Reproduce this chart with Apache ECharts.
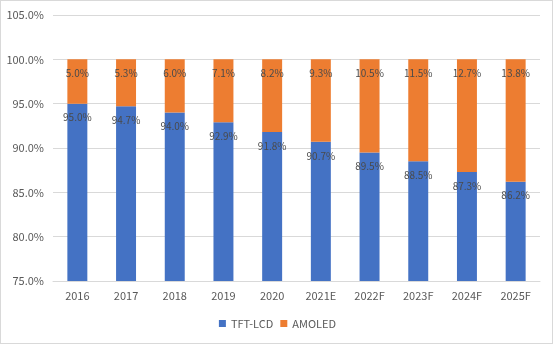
<!DOCTYPE html>
<html>
<head>
<meta charset="utf-8">
<script src="https://cdn.jsdelivr.net/npm/echarts@6/dist/echarts.min.js"></script>
<style>
  html, body { margin: 0; padding: 0; background: #fff; }
  #frame { position: absolute; left: 0; top: 0; width: 551px; height: 342px; border: 1px solid #d9d9d9; }
  #chart { position: absolute; left: 0; top: 0; width: 555px; height: 345px; }
</style>
</head>
<body>
<div id="frame"></div>
<div id="chart"></div>
<script>
// Display technology share by year
const years = ['2016', '2017', '2018', '2019', '2020', '2021E', '2022F', '2023F', '2024F', '2025F'];
const tftLcd = [95.0, 94.7, 94.0, 92.9, 91.8, 90.7, 89.5, 88.5, 87.3, 86.2];
const amoled = [5.0, 5.3, 6.0, 7.1, 8.2, 9.3, 10.5, 11.5, 12.7, 13.8];

const FONT = 'Noto Sans CJK SC';

const chart = echarts.init(document.getElementById('chart'), null, { renderer: 'canvas' });

const labelStyle = {
  show: true,
  position: 'insideTop',
  distance: 9,
  color: '#4a4a4a',
  fontSize: 10,
  fontFamily: FONT,
  formatter: p => p.value.toFixed(1) + '%'
};

chart.setOption({
  animation: false,
  textStyle: { fontFamily: FONT },
  grid: { left: 53, right: 15, top: 15, bottom: 64, containLabel: false },
  legend: {
    bottom: 11,
    left: 'center',
    itemWidth: 7,
    itemHeight: 7,
    itemGap: 7,
    icon: 'rect',
    textStyle: { color: '#595959', fontSize: 11, fontFamily: FONT },
    data: ['TFT-LCD', 'AMOLED']
  },
  xAxis: {
    type: 'category',
    data: years,
    axisLine: { lineStyle: { color: '#d9d9d9' } },
    axisTick: { show: false },
    axisLabel: { color: '#595959', fontSize: 11, fontFamily: FONT, margin: 9 }
  },
  yAxis: {
    type: 'value',
    min: 75,
    max: 105,
    interval: 5,
    axisLine: { show: false },
    axisTick: { show: false },
    splitLine: { lineStyle: { color: '#d9d9d9' } },
    axisLabel: {
      color: '#595959', fontSize: 11, fontFamily: FONT, margin: 9,
      formatter: v => v.toFixed(1) + '%'
    }
  },
  series: [
    {
      name: 'TFT-LCD',
      type: 'bar',
      stack: 'share',
      barWidth: '41%',
      itemStyle: { color: '#4472C4' },
      label: labelStyle,
      data: tftLcd
    },
    {
      name: 'AMOLED',
      type: 'bar',
      stack: 'share',
      barWidth: '41%',
      itemStyle: { color: '#ED7D31' },
      label: labelStyle,
      data: amoled
    }
  ]
});
</script>
</body>
</html>
